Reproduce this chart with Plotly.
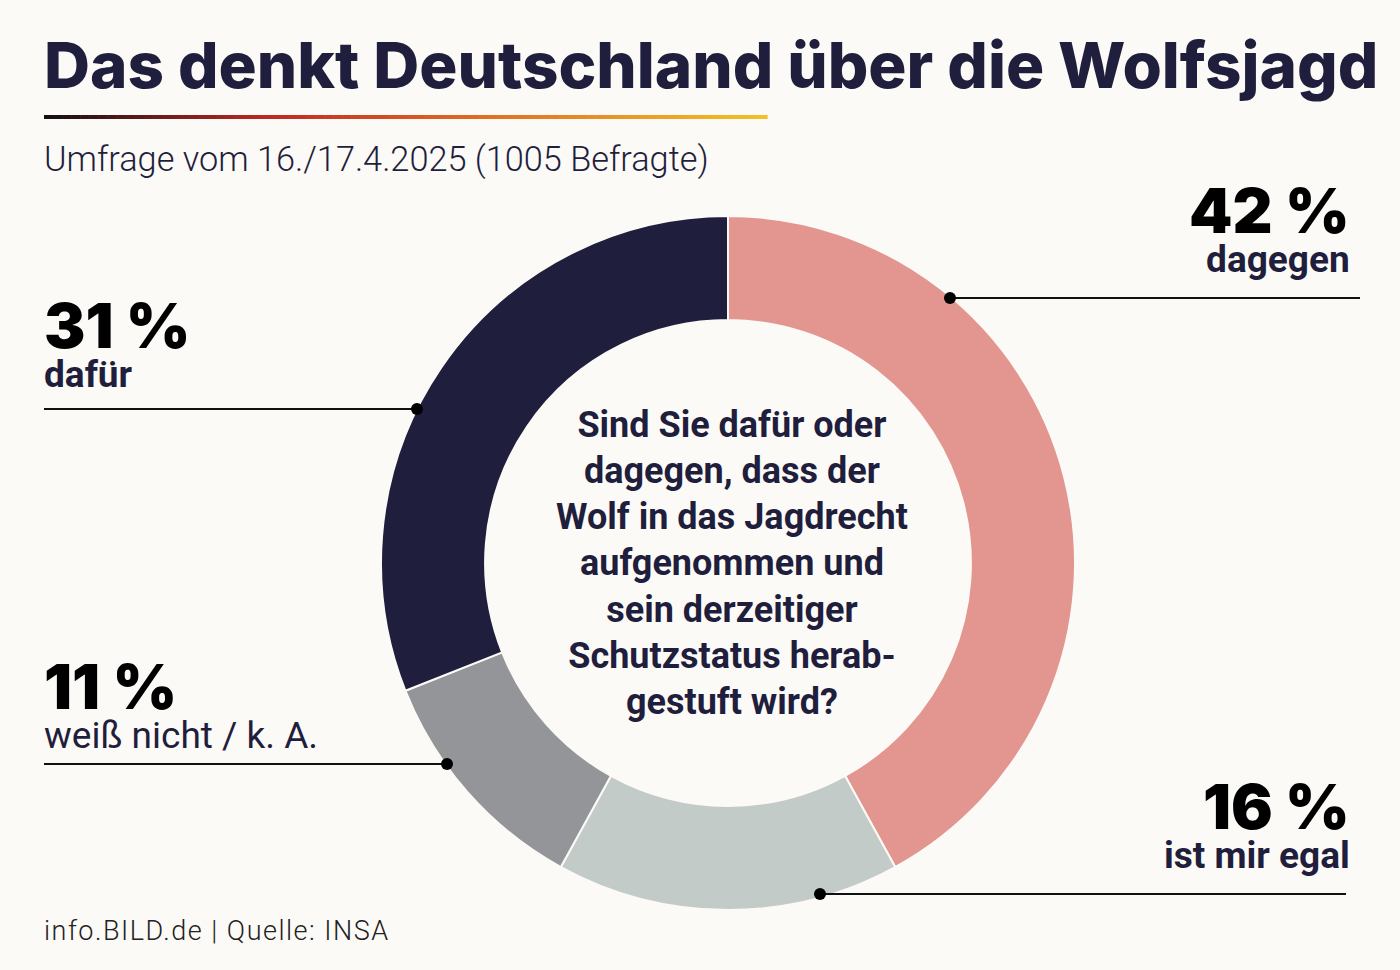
import plotly.graph_objects as go

# ---- data ----
labels = ["dagegen", "ist mir egal", "weiß nicht / k. A.", "dafür"]
values = [42, 16, 11, 31]
colors = ["#E3958F", "#C2CBC8", "#939598", "#1F1E3D"]
pct_text = ["42 %", "16 %", "11 %", "31 %"]

title = "Das denkt Deutschland über die Wolfsjagd"
subtitle = "Umfrage vom 16./17.4.2025 (1005 Befragte)"
question_lines = ["Sind Sie dafür oder", "dagegen, dass der", "Wolf in das Jagdrecht",
                  "aufgenommen und", "sein derzeitiger", "Schutzstatus herab-", "gestuft wird?"]
footer = "info.BILD.de | Quelle: INSA"

W, H = 1400, 970
BG = "#FCFAF6"
NAVY = "#1F1E3D"
COND = "Roboto, Noto Sans, sans-serif"
HEAVY = "Inter, Lato, sans-serif"


def px(x):
    return x / W


def py(y):
    return 1 - y / H


cx, cy, R = 728, 563, 347

fig = go.Figure()
fig.add_trace(go.Pie(
    labels=labels, values=values, sort=False, direction="clockwise", rotation=0,
    hole=0.70, marker=dict(colors=colors, line=dict(color=BG, width=2)),
    textinfo="none", hoverinfo="label+percent", showlegend=False,
    domain=dict(x=[px(cx - R), px(cx + R)], y=[py(cy + R), py(cy - R)]),
))

ann = []
shapes = []

# title
ann.append(dict(x=px(42), y=py(65), xanchor="left", yanchor="middle", text=title,
                font=dict(family=HEAVY, size=63.7, color=NAVY, weight=800), showarrow=False))
# gradient rule
stops = [(0.0, (20, 16, 20)), (0.3, (190, 40, 35)), (0.6, (225, 110, 35)), (1.0, (242, 196, 40))]


def grad(t):
    for (t0, c0), (t1, c1) in zip(stops[:-1], stops[1:]):
        if t0 <= t <= t1:
            f = (t - t0) / (t1 - t0)
            return "rgb(%d,%d,%d)" % tuple(int(a + (b - a) * f) for a, b in zip(c0, c1))
    return "rgb(242,196,40)"


N = 80
x0g, x1g = 44, 767
for i in range(N):
    xa = x0g + (x1g - x0g) * i / N
    xb = x0g + (x1g - x0g) * (i + 1) / N + 0.6
    shapes.append(dict(type="rect", xref="paper", yref="paper", x0=px(xa), x1=px(xb),
                       y0=py(119), y1=py(115), fillcolor=grad(i / N), line=dict(width=0)))

ann.append(dict(x=px(42), y=py(160), xanchor="left", yanchor="middle", text=subtitle,
                font=dict(family=COND, size=34.3, color=NAVY, weight=300), showarrow=False))

# center question (base size sets the line spacing; span sets glyph size)
qtext = "<br>".join('<span style="font-size:36px">%s</span>' % s for s in question_lines)
ann.append(dict(x=px(732), y=py(563), xanchor="center", yanchor="middle", text=qtext,
                align="center",
                font=dict(family=COND, size=35.5, color=NAVY, weight="bold"), showarrow=False))

# percentage + label blocks
lab_pos = {
    0: dict(x=1352, anchor="right", y=227),
    1: dict(x=1352, anchor="right", y=823),
    2: dict(x=42, anchor="left", y=703),
    3: dict(x=42, anchor="left", y=342),
}
for i, p in lab_pos.items():
    wt = 700 if i != 2 else 400
    txt = ('<span style="font-family:Inter;font-size:62px;font-weight:900;color:#000000">%s</span>'
           '<br><span style="font-size:37px;font-weight:%d">%s</span>') % (pct_text[i], wt, labels[i])
    ann.append(dict(x=px(p["x"]), y=py(p["y"]), xanchor=p["anchor"], yanchor="middle",
                    align=p["anchor"], text=txt,
                    font=dict(family=COND, size=30, color=NAVY), showarrow=False))

# leader lines
leaders = [
    (950, 1360, 298, 950),
    (820, 1346, 894, 820),
    (44, 447, 764, 447),
    (44, 417, 409, 417),
]
for xa, xb, yy, dotx in leaders:
    shapes.append(dict(type="line", xref="paper", yref="paper", x0=px(xa), x1=px(xb),
                       y0=py(yy), y1=py(yy), line=dict(color="#111111", width=2)))
    shapes.append(dict(type="circle", xref="paper", yref="paper", x0=px(dotx - 6), x1=px(dotx + 6),
                       y0=py(yy + 6), y1=py(yy - 6), fillcolor="#000000", line=dict(width=0)))

ann.append(dict(x=px(42), y=py(931), xanchor="left", yanchor="middle",
                text='<span style="letter-spacing:1.5px">%s</span>' % footer,
                font=dict(family=COND, size=27, color="#222222", weight=300),
                showarrow=False))

fig.update_layout(width=W, height=H, margin=dict(l=0, r=0, t=0, b=0),
                  paper_bgcolor=BG, plot_bgcolor=BG, annotations=ann, shapes=shapes,
                  showlegend=False)
fig.write_html("out.html")
